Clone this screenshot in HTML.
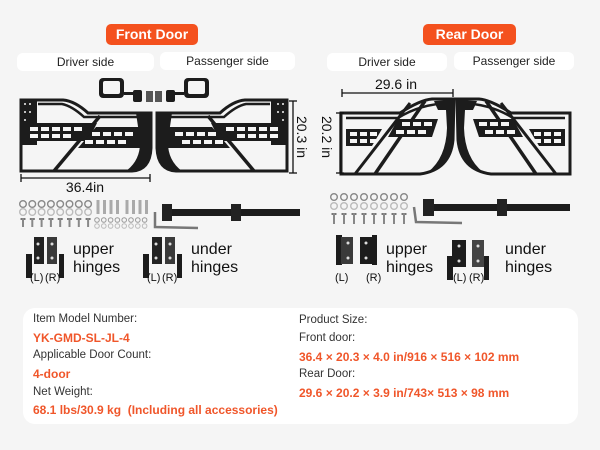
<!DOCTYPE html>
<html><head><meta charset="utf-8"><style>
body{margin:0;width:600px;height:450px;background:#f5f5f5;font-family:"Liberation Sans",sans-serif;overflow:hidden;position:relative}
.badge{position:absolute;top:24px;height:21px;background:#f4511e;color:#fff;font-weight:bold;font-size:14px;line-height:21px;text-align:center;border-radius:5px}
.lab{position:absolute;height:18px;background:#fff;border-radius:6px;font-size:12px;line-height:18px;text-align:center;color:#222}
.card{position:absolute;left:23px;top:308px;width:555px;height:116px;background:#fff;border-radius:12px}
.t{position:absolute;font-size:11.5px;color:#333;white-space:nowrap}
.o{position:absolute;font-size:12px;color:#f0562a;font-weight:bold;white-space:nowrap}
svg{position:absolute;left:0;top:0}
</style></head><body>
<div class="badge" style="left:106px;width:92px">Front Door</div>
<div class="badge" style="left:423px;width:93px">Rear Door</div>
<div class="lab" style="left:17px;top:53px;width:137px">Driver side</div>
<div class="lab" style="left:160px;top:52px;width:135px">Passenger side</div>
<div class="lab" style="left:327px;top:53px;width:120px">Driver side</div>
<div class="lab" style="left:454px;top:52px;width:120px">Passenger side</div>

<svg width="600" height="300" id="s">
<defs>
<g id="fd">
<path d="M21,100 L63,100 Q75,101 88,113 L151,113 L151,148 Q150,170 132,171 L21,171 Z" fill="none" stroke="#1c1c1c" stroke-width="3"/>
<path d="M38,104 L62,104 Q72,106 84,117 L150,117" fill="none" stroke="#1c1c1c" stroke-width="2.5"/>
<rect x="21" y="100" width="16" height="45" fill="#1c1c1c"/>
<path d="M27,123 L97,123 L88,141 L27,141Z" fill="#1c1c1c"/>
<path d="M96,127 L145,127 L145,148 L78,148Z" fill="#1c1c1c"/>
<path d="M136,113 L151,113 L151,148 Q150,170 132,171 L126,171 Q141,160 140,140 Z" fill="#1c1c1c"/>
<path d="M100,116 L54,171" stroke="#1c1c1c" stroke-width="3.5"/>
<g fill="#f5f5f5"><rect x="30" y="127" width="8" height="4"/><rect x="41" y="127" width="8" height="4"/><rect x="52" y="127" width="8" height="4"/><rect x="63" y="127" width="8" height="4"/><rect x="74" y="127" width="8" height="4"/>
<rect x="30" y="134" width="8" height="4"/><rect x="41" y="134" width="8" height="4"/><rect x="52" y="134" width="8" height="4"/><rect x="63" y="134" width="8" height="4"/>
<rect x="92" y="132" width="8" height="4"/><rect x="103" y="132" width="8" height="4"/><rect x="114" y="132" width="8" height="4"/><rect x="125" y="132" width="8" height="4"/>
<rect x="85" y="140" width="8" height="4"/><rect x="96" y="140" width="8" height="4"/><rect x="107" y="140" width="8" height="4"/><rect x="118" y="140" width="8" height="4"/>
<circle cx="25" cy="104" r="1"/><circle cx="30" cy="104" r="1"/><circle cx="25" cy="112" r="1"/><circle cx="30" cy="112" r="1"/><circle cx="25" cy="120" r="1"/></g>
</g>
<g id="rd">
<path d="M341,113 L400,113 Q420,100 432,99 L454,99 L453,140 Q450,170 420,174 L341,174Z" fill="none" stroke="#1c1c1c" stroke-width="3"/>
<path d="M346,118 L398,118 Q420,104 450,103" fill="none" stroke="#1c1c1c" stroke-width="2.5"/>
<path d="M434,101 L453,100 L452,140 Q450,166 428,172 Q446,158 447,128 L446,110 L438,110 Q436,106 434,101Z" fill="#1c1c1c"/>
<path d="M346,129 L382,129 L372,146 L346,146Z" fill="#1c1c1c"/>
<path d="M398,119 L438,119 L432,137 L388,137Z" fill="#1c1c1c"/>
<path d="M425,101 L375,174" stroke="#1c1c1c" stroke-width="3.5"/>
<path d="M410,103 L355,174" stroke="#1c1c1c" stroke-width="3"/>
<g fill="#f5f5f5"><rect x="350" y="132" width="7" height="4"/><rect x="360" y="132" width="7" height="4"/><rect x="370" y="132" width="7" height="4"/>
<rect x="350" y="139" width="7" height="4"/><rect x="360" y="139" width="7" height="4"/><rect x="370" y="139" width="7" height="4"/>
<rect x="402" y="122" width="8" height="4"/><rect x="413" y="122" width="8" height="4"/><rect x="424" y="122" width="8" height="4"/>
<rect x="396" y="130" width="8" height="4"/><rect x="407" y="130" width="8" height="4"/><rect x="418" y="130" width="8" height="4"/></g>
</g>
</defs>
<use href="#fd"/>
<use href="#fd" transform="translate(308,0) scale(-1,1)"/>
<use href="#rd"/>
<use href="#rd" transform="translate(911,0) scale(-1,1)"/>
<g fill="#1c1c1c">
<rect x="99" y="78" width="25" height="20" rx="4"/><rect x="103" y="81" width="17" height="13" fill="#f5f5f5" rx="2"/><rect x="124" y="92" width="10" height="3"/><rect x="133" y="90" width="9" height="12" rx="2"/><rect x="146" y="91" width="7" height="11" fill="#555"/>
<rect x="184" y="78" width="25" height="20" rx="4"/><rect x="188" y="81" width="17" height="13" fill="#f5f5f5" rx="2"/><rect x="174" y="92" width="10" height="3"/><rect x="166" y="90" width="9" height="12" rx="2"/><rect x="155" y="91" width="7" height="11" fill="#555"/>
</g>
<g stroke="#111" stroke-width="1.3">
<line x1="21" y1="178" x2="150" y2="178"/><line x1="21" y1="174" x2="21" y2="182"/><line x1="150" y1="174" x2="150" y2="182"/>
<line x1="293" y1="101" x2="293" y2="173"/><line x1="289" y1="101" x2="297" y2="101"/><line x1="289" y1="173" x2="297" y2="173"/>
<line x1="342" y1="93" x2="453" y2="93"/><line x1="342" y1="89" x2="342" y2="97"/><line x1="453" y1="89" x2="453" y2="97"/>
<line x1="340" y1="113" x2="340" y2="173"/><line x1="336" y1="113" x2="344" y2="113"/><line x1="336" y1="173" x2="344" y2="173"/>
</g>
<g font-family="Liberation Sans, sans-serif" fill="#111" font-size="14">
<text x="85" y="192" text-anchor="middle">36.4in</text>
<text x="396" y="89" text-anchor="middle">29.6 in</text>
<text transform="translate(297,137) rotate(90)" text-anchor="middle">20.3 in</text>
<text transform="translate(322,137) rotate(90)" text-anchor="middle">20.2 in</text>
</g>
<g id="hw"></g>
<g>
<rect x="165" y="209" width="135" height="7" fill="#1c1c1c"/><rect x="162" y="204" width="10" height="17" fill="#222"/><rect x="231" y="204" width="10" height="17" fill="#222"/>
<path d="M155,212 L155,227 L198,228" stroke="#777" stroke-width="2.5" fill="none"/>
<rect x="425" y="204" width="145" height="7" fill="#1c1c1c"/><rect x="423" y="199" width="11" height="17" fill="#222"/><rect x="497" y="199" width="10" height="17" fill="#222"/>
<path d="M414,207 L416,222 L462,223" stroke="#777" stroke-width="2.5" fill="none"/>
</g>
<g fill="#1c1c1c">
<rect x="34" y="237" width="10" height="27" fill="#222"/><rect x="26" y="254" width="6" height="24"/>
<rect x="47" y="237" width="10" height="27" fill="#3a3a3a"/><rect x="59" y="254" width="5" height="24"/>
<rect x="152" y="237" width="10" height="27" fill="#222"/><rect x="143" y="254" width="6" height="24"/>
<rect x="165" y="237" width="10" height="27" fill="#3a3a3a"/><rect x="177" y="254" width="5" height="24"/>
<rect x="336" y="235" width="6" height="30"/><rect x="341" y="237" width="12" height="27" fill="#3a3a3a"/>
<rect x="360" y="237" width="13" height="27"/><rect x="372" y="235" width="5" height="30"/>
<rect x="452" y="240" width="14" height="27"/><rect x="447" y="256" width="6" height="24"/>
<rect x="472" y="240" width="12" height="27" fill="#444"/><rect x="484" y="256" width="5" height="24"/>
</g>
<g fill="#ddd"><circle cx="38" cy="244" r="1.5"/><circle cx="38" cy="258" r="1.5"/><circle cx="52" cy="244" r="1.5"/><circle cx="52" cy="258" r="1.5"/><circle cx="156" cy="244" r="1.5"/><circle cx="156" cy="258" r="1.5"/><circle cx="170" cy="244" r="1.5"/><circle cx="170" cy="258" r="1.5"/><circle cx="348" cy="243" r="1.5"/><circle cx="348" cy="258" r="1.5"/><circle cx="366" cy="243" r="1.5"/><circle cx="366" cy="258" r="1.5"/><circle cx="459" cy="246" r="1.5"/><circle cx="459" cy="261" r="1.5"/><circle cx="478" cy="246" r="1.5"/><circle cx="478" cy="261" r="1.5"/></g>
<g font-family="Liberation Sans, sans-serif" fill="#111">
<text x="73" y="254" font-size="16">upper</text><text x="73" y="272" font-size="16">hinges</text>
<text x="191" y="254" font-size="16">under</text><text x="191" y="272" font-size="16">hinges</text>
<text x="386" y="254" font-size="16">upper</text><text x="386" y="272" font-size="16">hinges</text>
<text x="505" y="254" font-size="16">under</text><text x="505" y="272" font-size="16">hinges</text>
<g font-size="11"><text x="30" y="281">(L)</text><text x="45" y="281">(R)</text><text x="147" y="281">(L)</text><text x="162" y="281">(R)</text>
<text x="335" y="281">(L)</text><text x="366" y="281">(R)</text><text x="453" y="281">(L)</text><text x="469" y="281">(R)</text></g>
</g>
</svg>
<script>
var h='';
function washers(x0,step,n,ys){for(var i=0;i<n;i++){var x=x0+i*step;ys.forEach(function(y,j){h+='<circle cx="'+x+'" cy="'+y+'" r="3.3" fill="none" stroke="'+(j?'#bbb':'#888')+'" stroke-width="1.4"/>';});}}
function bolts(x0,step,n,y,len){for(var i=0;i<n;i++){var x=x0+i*step;h+='<rect x="'+(x-2.5)+'" y="'+y+'" width="5" height="2" fill="#777"/><rect x="'+(x-1)+'" y="'+y+'" width="2" height="'+len+'" fill="#888"/>';}}
washers(23,9.3,8,[204,212]);bolts(23,9.3,8,218,9);
for(var i=0;i<8;i++){var x=98+i*6.5+(i>3?3:0);h+='<rect x="'+(x-1.5)+'" y="200" width="3" height="14" fill="#aaa"/>';}
for(var i=0;i<8;i++){var x=97+i*6.8;h+='<circle cx="'+x+'" cy="220" r="2.3" fill="none" stroke="#999"/><circle cx="'+x+'" cy="226" r="2.3" fill="none" stroke="#bbb"/>';}
washers(334,10,8,[197,206]);bolts(334,10,8,213,11);
document.getElementById('hw').innerHTML=h;
</script>
<div class="card"></div>
<div class="t" style="left:33px;top:313px">Item Model Number:</div>
<div class="o" style="left:33px;top:331px">YK-GMD-SL-JL-4</div>
<div class="t" style="left:33px;top:349px">Applicable Door Count:</div>
<div class="o" style="left:33px;top:367px">4-door</div>
<div class="t" style="left:33px;top:386px">Net Weight:</div>
<div class="o" style="left:33px;top:403px">68.1 lbs/30.9 kg&nbsp; (Including all accessories)</div>
<div class="t" style="left:299px;top:314px">Product Size:</div>
<div class="t" style="left:299px;top:332px">Front door:</div>
<div class="o" style="left:299px;top:350px">36.4 × 20.3 × 4.0 in/916 × 516 × 102 mm</div>
<div class="t" style="left:299px;top:368px">Rear Door:</div>
<div class="o" style="left:299px;top:386px">29.6 × 20.2 × 3.9 in/743× 513 × 98 mm</div>
</body></html>
